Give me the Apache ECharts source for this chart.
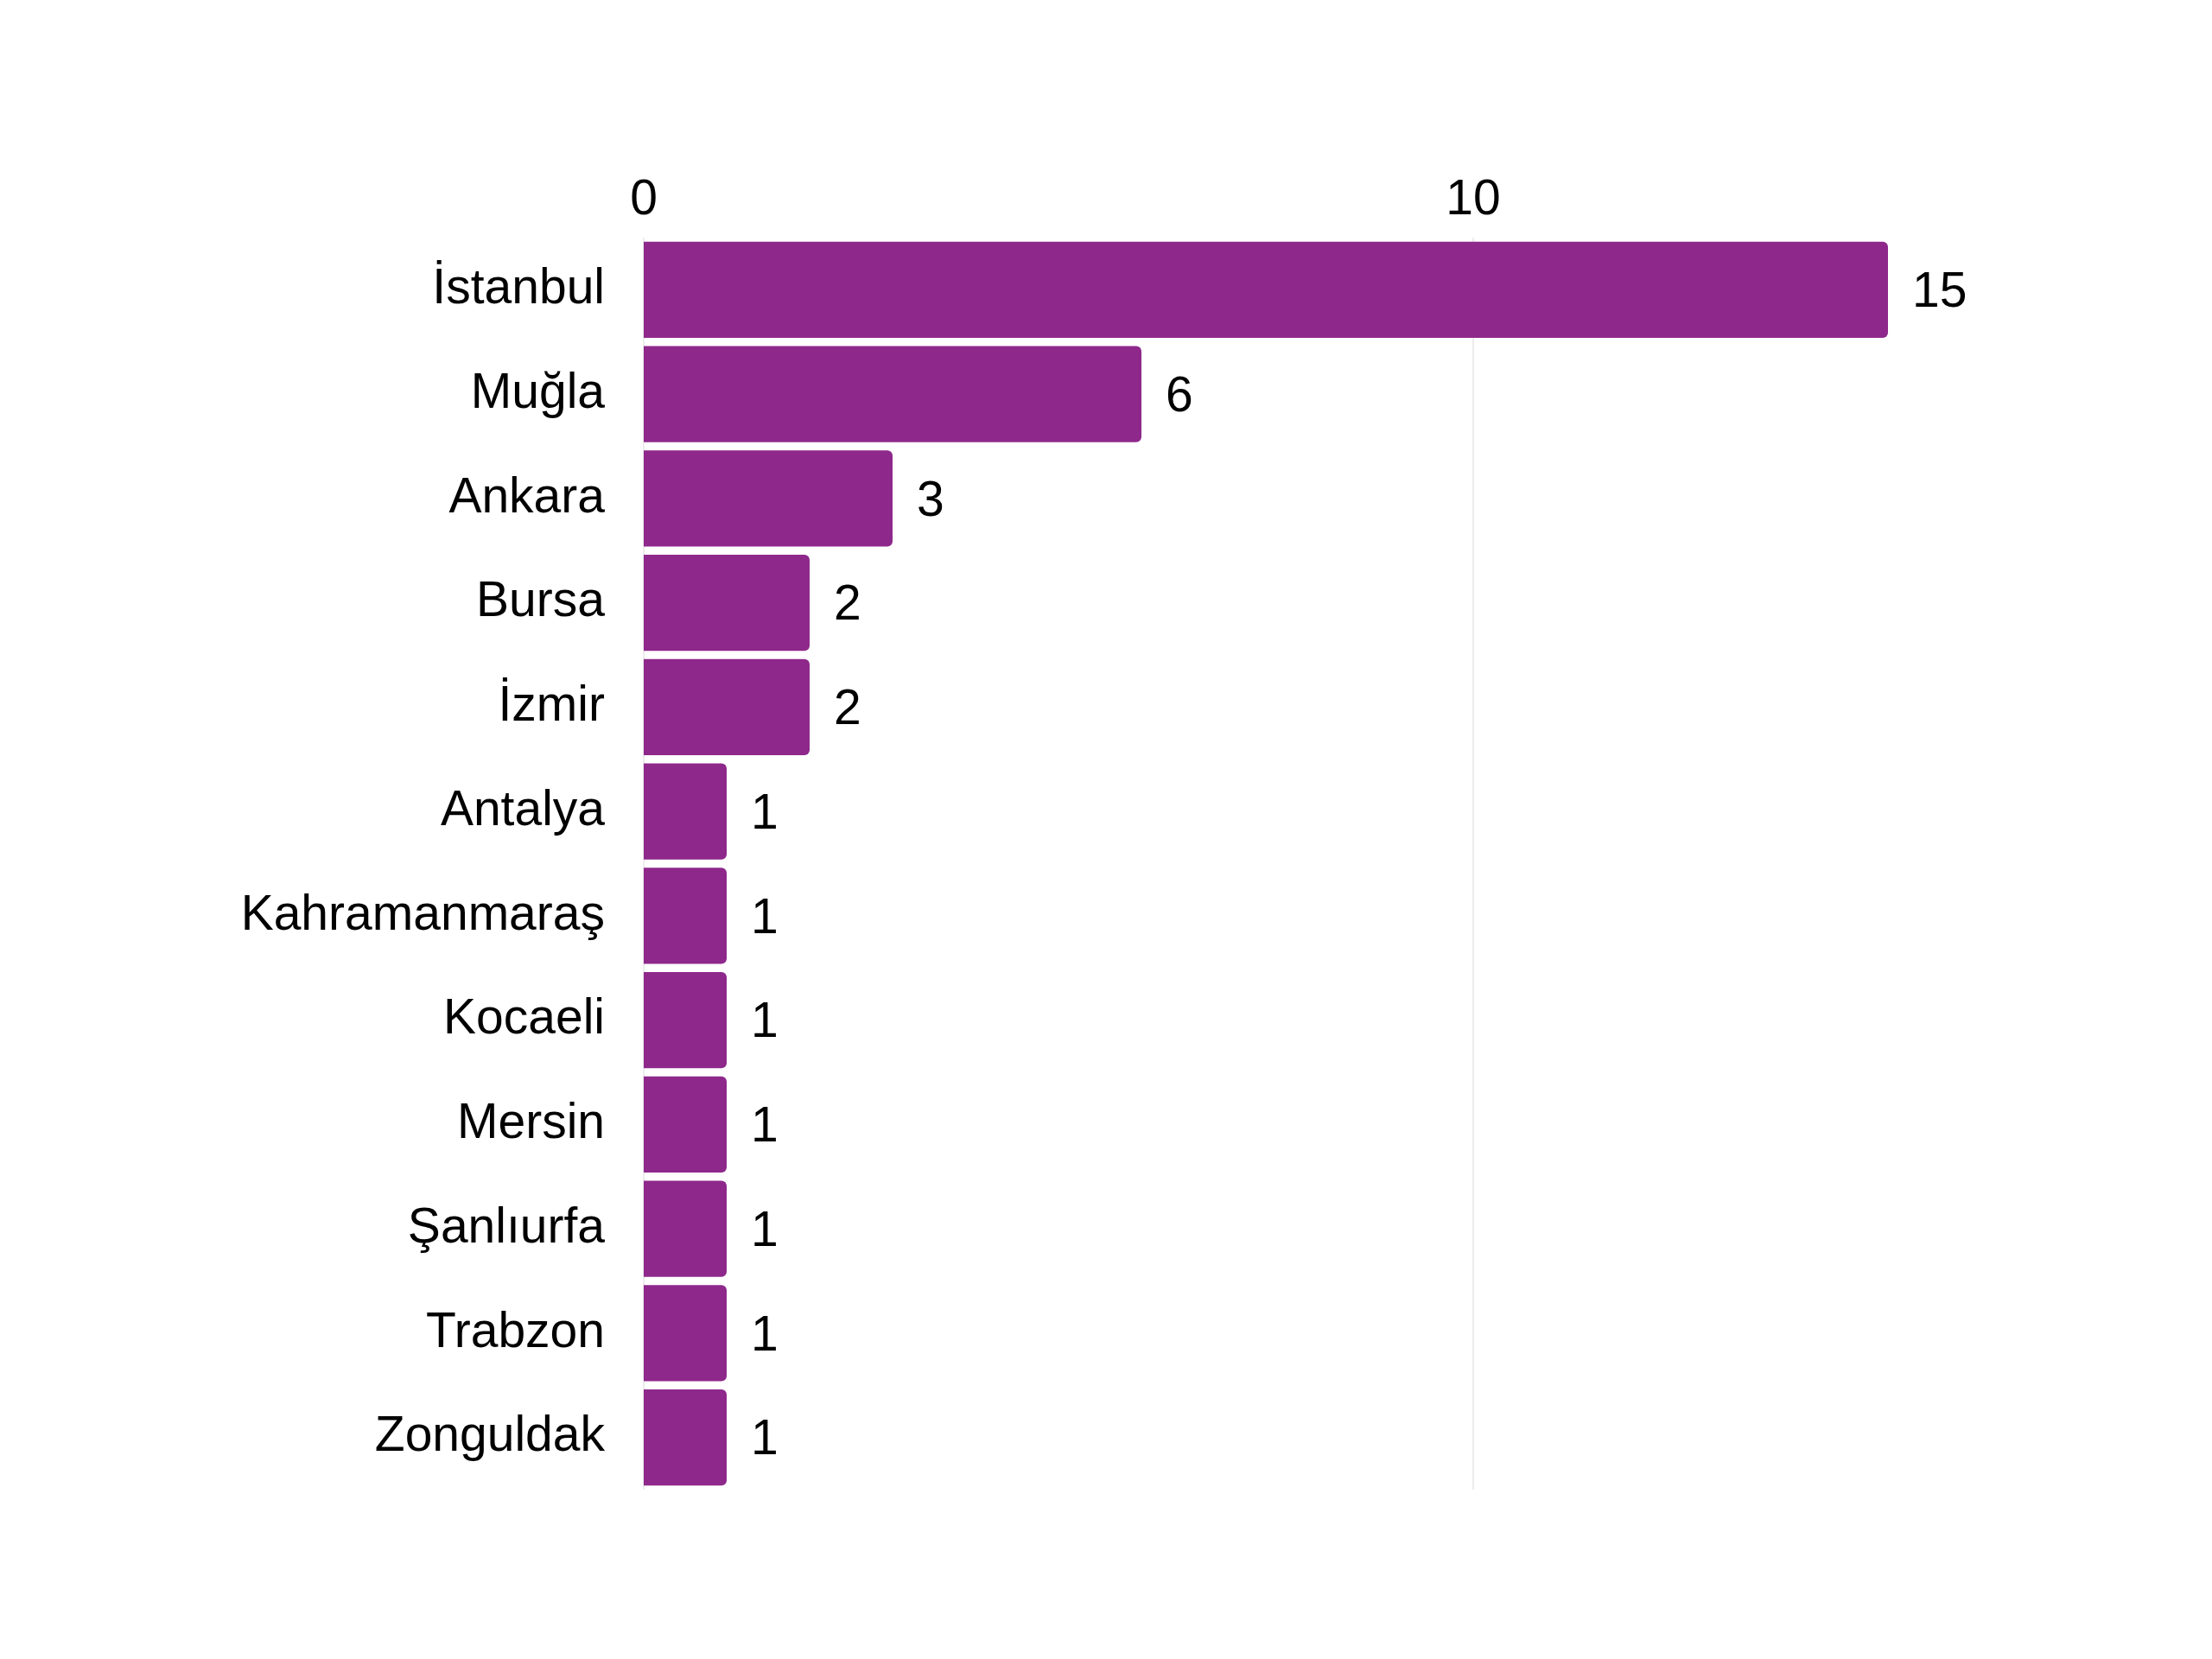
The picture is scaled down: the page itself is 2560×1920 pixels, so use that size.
<!DOCTYPE html>
<html>
<head>
<meta charset="utf-8">
<script src="https://cdn.jsdelivr.net/npm/echarts@6/dist/echarts.min.js"></script>
<style>html,body{margin:0;padding:0;background:#fff}#c{width:2560px;height:1920px}</style>
</head>
<body>
<div id="c"></div>
<script>
const cities = ["İstanbul","Muğla","Ankara","Bursa","İzmir","Antalya","Kahramanmaraş","Kocaeli","Mersin","Şanlıurfa","Trabzon","Zonguldak"];
const counts = [15,6,3,2,2,1,1,1,1,1,1,1];
const axisMin = 0, axisMax = 15, axisStep = 10;

const chart = echarts.init(document.getElementById('c'));
chart.setOption({
  backgroundColor: '#ffffff',
  animation: false,
  textStyle: { fontFamily: 'Liberation Sans, Arial, sans-serif' },
  grid: { left: 745, right: 375, top: 275, bottom: 196, containLabel: false },
  xAxis: {
    type: 'value', position: 'top', min: axisMin, max: axisMax, interval: axisStep,
    axisLine: { show: false }, axisTick: { show: false },
    axisLabel: { fontSize: 57, color: '#000', margin: 14, showMaxLabel: false, fontFamily: 'Liberation Sans' },
    splitLine: { show: true, showMaxLine: false, lineStyle: { color: '#e6e6e6', width: 1.5 } }
  },
  yAxis: {
    type: 'category', data: cities, inverse: true,
    axisLine: { show: false }, axisTick: { show: false },
    axisLabel: { fontSize: 57, color: '#000', margin: 45, fontFamily: 'Liberation Sans' }
  },
  series: [{
    type: 'bar', data: counts, barCategoryGap: '8%',
    itemStyle: { color: '#8e288b', borderRadius: [0, 6, 6, 0] },
    label: { show: true, position: 'right', distance: 28, offset: [0, 4], fontSize: 57, color: '#000', fontFamily: 'Liberation Sans' }
  }]
});
</script>
</body>
</html>
